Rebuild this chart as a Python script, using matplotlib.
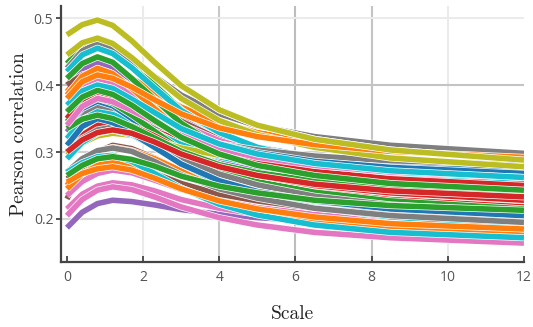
import matplotlib
matplotlib.use("Agg")
import matplotlib.pyplot as plt
import matplotlib.patheffects as pe

scale = [0, 0.4, 0.8, 1.2, 1.7, 2.3, 3, 4, 5, 6.5, 8.5, 12]

olive = [
    [.475, .490, .497, .489, .466, .434, .399, .363, .340, .319, .303, .288],
    [.445, .463, .470, .462, .441, .412, .380, .347, .326, .307, .291, .278],
    [.295, .313, .324, .328, .325, .317, .306, .295, .287, .279, .273, .268],
]
gray = [
    [.425, .451, .462, .455, .437, .413, .385, .357, .339, .323, .310, .298],
    [.340, .359, .367, .364, .354, .341, .327, .312, .303, .294, .287, .281],
    [.300, .320, .333, .337, .331, .314, .291, .267, .251, .234, .221, .210],
    [.270, .290, .302, .306, .301, .286, .266, .245, .231, .216, .205, .195],
]
green = [
    [.432, .456, .466, .457, .433, .400, .363, .325, .301, .279, .261, .246],
    [.410, .432, .442, .434, .410, .379, .343, .307, .284, .263, .246, .231],
    [.345, .370, .380, .373, .355, .331, .303, .274, .256, .240, .227, .215],
    [.335, .349, .355, .350, .338, .321, .301, .281, .269, .257, .248, .240],
    [.265, .280, .290, .293, .289, .279, .264, .249, .239, .228, .220, .213],
    [.360, .382, .392, .386, .370, .347, .322, .297, .280, .265, .253, .243],
]
cyan = [
    [.420, .445, .455, .447, .426, .396, .362, .329, .307, .288, .272, .258],
    [.320, .348, .360, .356, .344, .329, .311, .293, .281, .271, .262, .255],
    [.290, .314, .328, .333, .326, .307, .282, .254, .236, .217, .203, .190],
    [.270, .284, .293, .295, .286, .268, .246, .222, .206, .191, .180, .172],
    [.370, .391, .400, .395, .379, .359, .335, .312, .297, .283, .272, .262],
]
purple = [
    [.400, .424, .434, .427, .407, .379, .349, .318, .298, .279, .265, .252],
    [.330, .355, .365, .360, .348, .330, .310, .290, .277, .266, .256, .248],
    [.187, .210, .223, .228, .226, .221, .214, .207, .202, .197, .193, .190],
]
orange = [
    [.390, .418, .430, .425, .410, .390, .367, .344, .329, .315, .305, .295],
    [.385, .413, .425, .417, .395, .365, .331, .296, .274, .254, .238, .224],
    [.250, .281, .300, .307, .302, .290, .272, .254, .241, .228, .219, .210],
    [.245, .267, .280, .285, .280, .265, .246, .225, .211, .197, .186, .176],
    [.255, .268, .275, .278, .273, .261, .245, .227, .215, .203, .193, .185],
    [.380, .405, .415, .410, .397, .378, .357, .336, .323, .311, .301, .292],
]
brown = [
    [.400, .415, .421, .415, .397, .373, .346, .319, .302, .286, .273, .262],
    [.230, .274, .300, .310, .305, .291, .272, .251, .237, .223, .213, .203],
    [.260, .273, .280, .283, .279, .268, .253, .237, .227, .216, .208, .200],
]
blue = [
    [.385, .408, .418, .412, .396, .374, .348, .323, .307, .292, .280, .270],
    [.350, .373, .383, .379, .366, .350, .331, .312, .300, .289, .280, .272],
    [.340, .365, .376, .369, .350, .323, .293, .263, .244, .226, .212, .200],
    [.310, .338, .350, .344, .328, .307, .282, .257, .241, .227, .215, .205],
    [.360, .381, .390, .385, .372, .353, .333, .312, .299, .286, .277, .268],
]
pink = [
    [.380, .401, .410, .404, .388, .366, .341, .317, .301, .286, .274, .264],
    [.235, .256, .268, .273, .269, .258, .244, .228, .217, .207, .198, .191],
    [.215, .237, .249, .254, .251, .242, .229, .216, .207, .198, .191, .185],
    [.205, .229, .243, .248, .244, .233, .218, .202, .191, .180, .172, .164],
    [.340, .368, .380, .375, .362, .345, .325, .305, .292, .280, .270, .262],
]
red = [
    [.362, .378, .385, .379, .363, .341, .315, .290, .274, .259, .247, .237],
    [.330, .359, .372, .366, .349, .326, .300, .273, .257, .241, .229, .218],
    [.300, .325, .340, .345, .339, .324, .303, .281, .265, .250, .239, .228],
    [.300, .318, .329, .333, .328, .315, .297, .278, .265, .252, .242, .233],
    [.350, .378, .390, .384, .369, .348, .324, .300, .285, .271, .260, .250],
]

xticks = [0, 2, 4, 6, 8, 10, 12]
yticks = [0.2, 0.3, 0.4, 0.5]

groups = [
    ("#1f77b4", blue), ("#ff7f0e", orange), ("#2ca02c", green), ("#d62728", red),
    ("#9467bd", purple), ("#8c564b", brown), ("#e377c2", pink), ("#7f7f7f", gray),
    ("#bcbd22", olive), ("#17becf", cyan),
]

fig = plt.figure(figsize=(5.33, 3.27), dpi=100)
ax = fig.add_axes([0.1144, 0.1988, 0.8686, 0.7829])
ax.set_xlim(-0.157, 12)
ax.set_ylim(0.1358, 0.518)

# grid lines
vgrid = {2: "#ebebeb", 4: "#c8c8c8", 6: "#bdbdbd", 8: "#c4c4c4", 10: "#ebebeb"}
hgrid = {0.2: "#d6d6d6", 0.3: "#d0d0d0", 0.4: "#c4c4c4", 0.5: "#ebebeb"}
for xv, c in vgrid.items():
    ax.axvline(xv, color=c, lw=1.5, zorder=0)
for yv, c in hgrid.items():
    ax.axhline(yv, color=c, lw=1.5, zorder=0)

maxn = max(len(g) for _, g in groups)
LW = 4.0
effects = [pe.Stroke(linewidth=LW + 1.0, foreground="white"), pe.Normal()]
for i in range(maxn):
    for color, g in groups:
        if i < len(g):
            ax.plot(scale, g[i], color=color, lw=LW, solid_capstyle="butt",
                    solid_joinstyle="round", path_effects=effects, zorder=2)
# top curve last
ax.plot(scale, olive[0], color="#bcbd22", lw=LW, solid_capstyle="butt",
        solid_joinstyle="round", path_effects=effects, zorder=3)

for s in ["top", "right"]:
    ax.spines[s].set_visible(False)
for s in ["left", "bottom"]:
    ax.spines[s].set_color("#444444")
    ax.spines[s].set_linewidth(1.6)

ax.set_xticks(xticks)
ax.set_yticks(yticks)
ax.set_xticklabels([str(t) for t in xticks])
ax.set_yticklabels([f"{t:.1f}" for t in yticks])
ax.tick_params(axis="x", direction="in", length=4, width=1.3, color="#444444",
               labelcolor="#555555", labelsize=10, pad=6)
ax.tick_params(axis="y", direction="out", length=3.5, width=1.3, color="#444444",
               labelcolor="#555555", labelsize=10, pad=2)
for lab in ax.get_xticklabels() + ax.get_yticklabels():
    lab.set_fontfamily("Open Sans")

ax.set_xlabel("Scale", fontfamily="cmr10", fontsize=14, labelpad=14, color="#222222")
ax.set_ylabel("Pearson correlation", fontfamily="cmr10", fontsize=14, labelpad=4,
              color="#222222")

fig.savefig("out.png", dpi=100)
